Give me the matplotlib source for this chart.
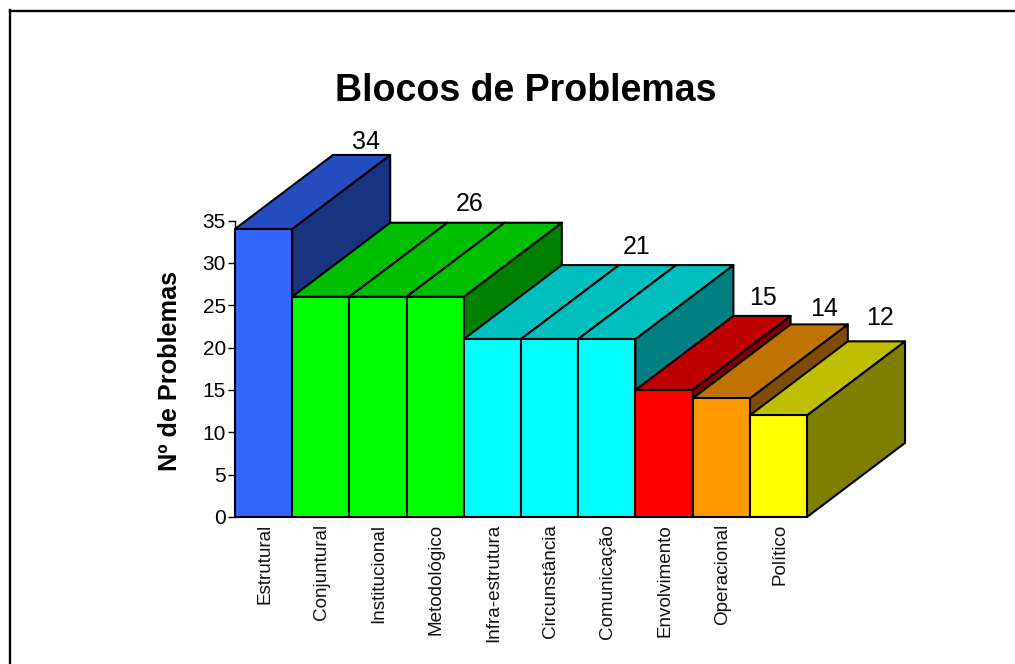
import matplotlib
matplotlib.use("Agg")
import matplotlib.pyplot as plt
from matplotlib.colors import to_rgb
from matplotlib.lines import Line2D
from matplotlib.patches import Polygon

plt.rcParams['font.family'] = ['Liberation Sans', 'DejaVu Sans']

categories = ['Estrutural', 'Conjuntural', 'Institucional', 'Metodológico', 'Infra-estrutura',
              'Circunstância', 'Comunicação', 'Envolvimento', 'Operacional', 'Político']
values = [34, 26, 26, 26, 21, 21, 21, 15, 14, 12]
colors = ['#3366ff', '#00ff00', '#00ff00', '#00ff00', '#00ffff',
          '#00ffff', '#00ffff', '#ff0000', '#ff9900', '#ffff00']

# one label per block of equal bars
label_values = [34, 26, 21, 15, 14, 12]
label_x = [2.295, 4.105, 7.02, 9.235, 10.295, 11.275]
label_gap = [0.08, 0.79, 0.67, 0.67, 0.43, 1.38]

W, H = 1015, 664
fig = plt.figure(figsize=(W / 100, H / 100), dpi=100)
ax = fig.add_axes([235 / W, 1 - 517 / H, 572 / W, 296.5 / H])
ax.set_xlim(0, 10)
ax.set_ylim(0, 35)

# depth of the fake 3D, in axis units
dx = 98 / 57.2
dy = 74 / 8.47


def shade(c, f):
    r, g, b = to_rgb(c)
    return (r * f, g * f, b * f)


for i, (v, c) in enumerate(zip(values, colors)):
    side = [(i + 1, 0), (i + 1 + dx, dy), (i + 1 + dx, v + dy), (i + 1, v)]
    top = [(i, v), (i + dx, v + dy), (i + 1 + dx, v + dy), (i + 1, v)]
    front = [(i, 0), (i, v), (i + 1, v), (i + 1, 0)]
    for pts, f in [(side, 0.5), (top, 0.75), (front, 1)]:
        ax.add_patch(Polygon(pts, closed=True, facecolor=shade(c, f), edgecolor='black',
                             linewidth=1.5, joinstyle='round', clip_on=False, zorder=3))

for x, v, gap in zip(label_x, label_values, label_gap):
    ax.text(x, v + dy + gap, str(v), ha='center', va='bottom', fontsize=18, clip_on=False)

for s in ['top', 'right', 'bottom']:
    ax.spines[s].set_visible(False)
ax.spines['left'].set_linewidth(1)
ax.set_yticks(range(0, 36, 5))
ax.tick_params(axis='y', length=5, width=1, pad=1.5, labelsize=15)
ax.set_xticks([i + 0.52 for i in range(len(categories))])
ax.set_xticklabels(categories, rotation=90, fontsize=13.6, color='#111111')
ax.tick_params(axis='x', length=0, pad=5)
ax.patch.set_visible(False)

fig.text(170 / W, 1 - 371 / H, 'Nº de Problemas', rotation=90, ha='center', va='center',
         fontsize=18.2, fontweight='bold')
fig.text(525.5 / W, 1 - 91 / H, 'Blocos de Problemas', ha='center', va='center',
         fontsize=27, fontweight='bold')

# outer frame, only top and left show
fig.add_artist(Line2D([10 / W, 1], [1 - 11 / H, 1 - 11 / H], color='black', linewidth=1.7))
fig.add_artist(Line2D([10 / W, 10 / W], [1 - 10 / H, 0], color='black', linewidth=1.7))

fig.savefig('out.png', dpi=100)
